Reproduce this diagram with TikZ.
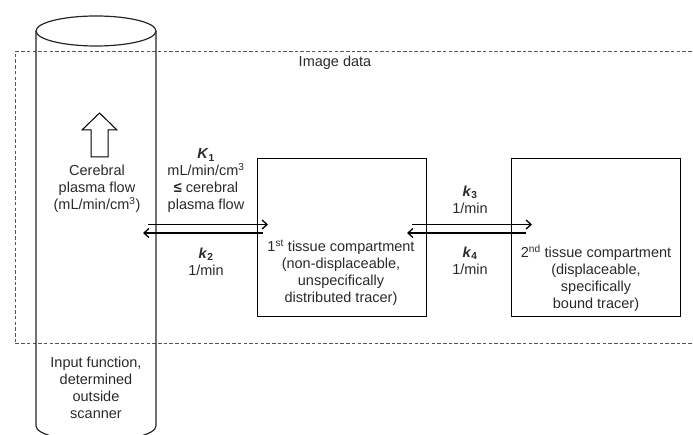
\documentclass[tikz,border=0pt]{standalone}
\usepackage{fontspec}
\setmainfont{Liberation Sans}
\usetikzlibrary{arrows.meta}
\definecolor{txt}{HTML}{2A2A2A}
\definecolor{dashc}{HTML}{555555}
\tikzset{
  lbl/.style={text=txt, align=center, inner sep=0pt, font=\fontsize{14.5}{17}\selectfont},
  comp/.style={draw=black, line width=1pt, minimum width=169pt, minimum height=158pt, inner sep=0pt},
  flow/.style={line width=1.3pt, -{Straight Barb[length=5pt,width=9pt,line width=1.3pt]}},
  frame/.style={draw=dashc, line width=1pt, dash pattern=on 3.5pt off 2.2pt},
  cyl/.style={draw=black!85, line width=1.2pt},
}
\newcommand{\kb}[2]{\textbf{\textit{#1}}\textsubscript{\textbf{#2}}}
\begin{document}
\begin{tikzpicture}[x=1pt,y=-1pt]
\useasboundingbox (0,0) rectangle (693,435);
\clip (0,0) rectangle (693,435);
% image data frame
\draw[frame] (720,52) -- (15,52) -- (15,344) -- (720,344);
\node[lbl] (imgdata) at (335,63) {Image data};
% cylinder
\draw[cyl] (36,31) -- (36,426) arc[start angle=180, end angle=360, x radius=60pt, y radius=15pt] -- (156,31);
\draw[cyl] (96,31) ellipse [x radius=60pt, y radius=15pt];
% hollow arrow
\draw[black, line width=1pt] (91,157) -- (91,130) -- (82,130) -- (99.5,113) -- (117,130) -- (108,130) -- (108,157) -- cycle;
\node[lbl] (cpf) at (97,189) {Cerebral\\plasma flow\\(mL/min/cm\textsuperscript{3})};
\node[lbl] (inp) at (96,388) {Input function,\\determined\\outside\\scanner};
% compartments
\node[comp] (box1) at (341.5,238) {};
\node[comp] (box2) at (596,238) {};
\node[lbl] (t1) at (341,273) {1\textsuperscript{st} tissue compartment\\(non-displaceable,\\unspecifically\\distributed tracer)};
\node[lbl] (t2) at (596,278) {2\textsuperscript{nd} tissue compartment\\(displaceable,\\specifically\\bound tracer)};
% rate labels
\node[lbl] (K1) at (206,181) {\kb{K}{1}\\mL/min/cm\textsuperscript{3}\\\textbf{≤} cerebral\\plasma flow};
\node[lbl] (k2) at (206,262) {\kb{k}{2}\\1/min};
\node[lbl] (k3) at (470,200) {\kb{k}{3}\\1/min};
\node[lbl] (k4) at (470,261) {\kb{k}{4}\\1/min};
% connector end points
\coordinate (p1) at (148,224.5);
\coordinate (p2) at (268,224.5);
\coordinate (q1) at (263,233);
\coordinate (q2) at (143,233);
\coordinate (p3) at (412,224.5);
\coordinate (p4) at (532,224.5);
\coordinate (q3) at (526,233);
\coordinate (q4) at (407,233);
\draw[flow] (p1) -- (p2);
\draw[flow] (q1) -- (q2);
\draw[flow] (p3) -- (p4);
\draw[flow] (q3) -- (q4);
\end{tikzpicture}
\end{document}
